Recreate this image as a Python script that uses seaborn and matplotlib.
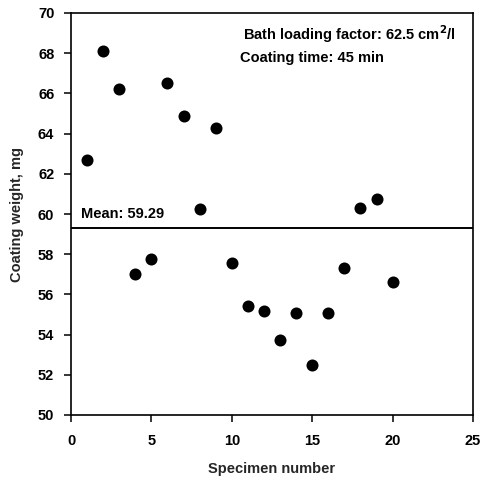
import matplotlib
matplotlib.use("Agg")
import matplotlib.pyplot as plt
import seaborn as sns
import pandas as pd

# Coating weight per specimen
specimen = list(range(1, 21))
coating_weight = [62.7, 68.1, 66.2, 57.0, 57.75, 66.5, 64.9, 60.25, 64.3, 57.55,
                  55.4, 55.15, 53.75, 55.05, 52.5, 55.05, 57.3, 60.3, 60.75, 56.6]
mean_weight = 59.29

x_ticks = [0, 5, 10, 15, 20, 25]
y_ticks = [50, 52, 54, 56, 58, 60, 62, 64, 66, 68, 70]

df = pd.DataFrame({"Specimen number": specimen, "Coating weight, mg": coating_weight})

sns.set_theme(style="white")
plt.rcParams["font.family"] = ["Liberation Sans", "DejaVu Sans"]
plt.rcParams["font.weight"] = "bold"

FS = 10.5

fig = plt.figure(figsize=(4.81, 4.83), dpi=100)
ax = fig.add_axes([71 / 481, 1 - 415 / 483, 402 / 481, 402 / 483])

sns.scatterplot(data=df, x="Specimen number", y="Coating weight, mg", ax=ax,
                color="black", s=75, edgecolor="black", linewidth=0)

ax.axhline(mean_weight, color="black", lw=1.4)
ax.text(0.62, mean_weight + 0.35, f"Mean: {mean_weight:.2f}", fontsize=FS,
        ha="left", va="bottom", color="black", fontweight="bold")

ax.text(10.7, 68.97, "Bath loading factor: 62.5 cm$^\\mathbf{2}$/l", fontsize=FS,
        ha="left", va="center", color="black", fontweight="bold")
ax.text(10.5, 67.77, "Coating time: 45 min", fontsize=FS,
        ha="left", va="center", color="black", fontweight="bold")

ax.set_xlim(0, 25)
ax.set_ylim(50, 70)
ax.set_xticks(x_ticks)
ax.set_yticks(y_ticks)
ax.tick_params(axis="both", which="major", bottom=True, left=True,
               direction="out", length=5, width=1.1, colors="black",
               labelsize=FS)
ax.tick_params(axis="x", pad=9)
ax.tick_params(axis="y", pad=7)
for side in ["left", "right", "top", "bottom"]:
    ax.spines[side].set_visible(True)
    ax.spines[side].set_color("black")
    ax.spines[side].set_linewidth(1.2)

ax.set_xlabel("Specimen number", fontsize=FS, labelpad=10, fontweight="bold")
ax.set_ylabel("Coating weight, mg", fontsize=FS, labelpad=10, fontweight="bold")

fig.savefig("out.png", dpi=100)
